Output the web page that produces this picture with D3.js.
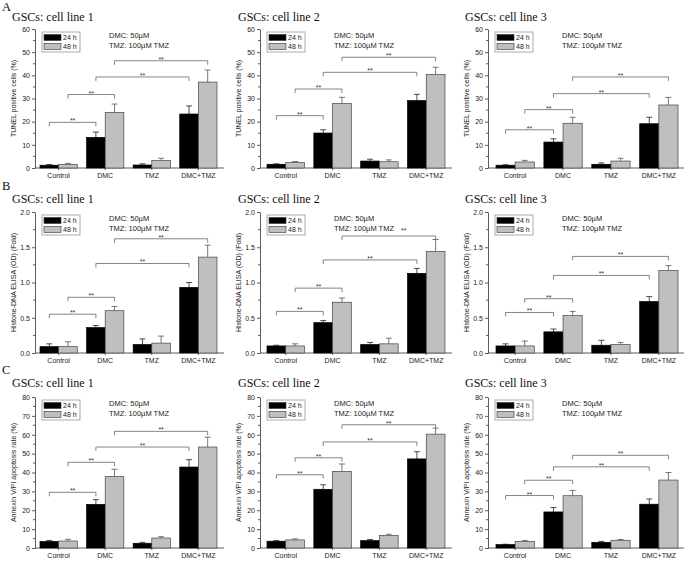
<!DOCTYPE html>
<html><head><meta charset="utf-8">
<script src="https://cdn.jsdelivr.net/npm/d3@7/dist/d3.min.js"></script>
<style>body{margin:0;background:#fff;} svg{display:block;}</style>
</head><body>
<svg id="chart" width="685" height="561"></svg>
<script>
// ---------------- data ----------------
const categories = ["Control", "DMC", "TMZ", "DMC+TMZ"];
const seriesNames = ["24 h", "48 h"];
const rowLetters = ["A", "B", "C"];
const panelTitles = ["GSCs: cell line 1", "GSCs: cell line 2", "GSCs: cell line 3"];
const yLabels = ["TUNEL positive cells (%)", "Histone-DNA ELISA (OD) (Fold)", "Annexin V/PI apoptosis rate  (%)"];
const yMaxes = [60, 2.0, 80];
const yTickSteps = [10, 0.5, 10];
const yTickFormats = ["d", ".1f", "d"];
const noteLine1 = "DMC: 50\u00B5M";
const noteLine2 = "TMZ: 100\u00B5M TMZ";
const starText = "**";

// A: TUNEL (%), rows of [cell line][category]
const tunel24 = [[1.2, 13.2, 1.3, 23.3], [1.6, 15.1, 3.0, 29.1], [1.2, 11.2, 1.6, 19.1]];
const tunel48 = [[1.5, 24.0, 3.2, 37.1], [2.4, 27.8, 2.7, 40.3], [2.6, 19.3, 3.0, 27.2]];
const tunel24Err = [[0.3, 2.3, 0.5, 3.5], [0.2, 1.4, 0.8, 2.7], [0.2, 1.4, 0.6, 2.8]];
const tunel48Err = [[0.5, 3.6, 1.0, 5.2], [0.4, 2.7, 0.8, 3.2], [0.7, 2.6, 1.2, 3.3]];
// B: Histone-DNA ELISA (fold)
const elisa24 = [[0.09, 0.36, 0.12, 0.93], [0.10, 0.43, 0.12, 1.13], [0.10, 0.30, 0.11, 0.73]];
const elisa48 = [[0.09, 0.60, 0.14, 1.36], [0.10, 0.72, 0.13, 1.44], [0.10, 0.53, 0.12, 1.17]];
const elisa24Err = [[0.04, 0.03, 0.08, 0.07], [0.01, 0.03, 0.03, 0.07], [0.03, 0.04, 0.07, 0.07]];
const elisa48Err = [[0.07, 0.06, 0.10, 0.17], [0.03, 0.06, 0.08, 0.17], [0.07, 0.06, 0.03, 0.07]];
// C: Annexin V/PI (%)
const annexin24 = [[3.5, 23.1, 2.5, 42.9], [3.6, 31.1, 3.9, 47.2], [1.8, 19.1, 3.0, 23.2]];
const annexin48 = [[3.7, 37.8, 5.3, 53.5], [4.3, 40.6, 6.6, 60.3], [3.5, 27.7, 4.1, 36.0]];
const annexin24Err = [[0.5, 2.5, 0.5, 3.9], [0.3, 2.4, 0.6, 3.8], [0.2, 2.3, 0.5, 2.8]];
const annexin48Err = [[0.9, 3.9, 0.7, 5.2], [0.5, 3.9, 0.7, 3.2], [0.5, 2.8, 0.4, 4.0]];

// significance brackets: [fromCategory, fromSeries, toCategory, toSeries]
const bracketPairs = [
  ["Control", "24 h", "DMC", "24 h"],
  ["Control", "48 h", "DMC", "48 h"],
  ["DMC", "24 h", "DMC+TMZ", "24 h"],
  ["DMC", "48 h", "DMC+TMZ", "48 h"]
];
const tunelBrackets = [[19.7, 31.7, 39.3, 46.3], [22.6, 34.1, 41.3, 47.8], [16.5, 25.2, 32.1, 39.3]];
const elisaBrackets = [[0.55, 0.79, 1.27, 1.62], [0.59, 0.92, 1.32, 1.66], [0.575, 0.77, 1.10, 1.37]];
const annexinBrackets = [[29.5, 45.4, 53.5, 61.8], [38.8, 47.8, 56.2, 65.3], [27.8, 35.9, 43.0, 49.1]];

const rowData = [
  {v24: tunel24, v48: tunel48, e24: tunel24Err, e48: tunel48Err, br: tunelBrackets},
  {v24: elisa24, v48: elisa48, e24: elisa24Err, e48: elisa48Err, br: elisaBrackets},
  {v24: annexin24, v48: annexin48, e24: annexin24Err, e48: annexin48Err, br: annexinBrackets}
];

// ---------------- layout ----------------
const rowTop = [29, 212, 397];
const rowBottom = [168, 353, 548];
const rowLetterY = [11, 190, 374];
const rowTitleY = [21, 203, 387];
const colAxisX = [35, 260, 488];
const colBarsStart = [40, 267, 496];
const colBarsEnd = [217, 445, 678];
const colAxisEnd = [224, 452, 684];
const colTitleX = [12, 238, 465];
// star label offsets (layout only): key "row-col-bracket" -> [dx, dy]
const starOffsets = {"1-1-3": [15, -4]};

const SANS = "'Liberation Sans', Arial, sans-serif";
const SERIF = "'Liberation Serif', 'Times New Roman', serif";
const colors = {"24 h": "#000000", "48 h": "#bfbfbf"};
const textColor = "#222";

const svg = d3.select("#chart");
svg.append("rect").attr("width", 685).attr("height", 561).attr("fill", "#fff");

rowLetters.forEach((L, r) => {
  svg.append("text").attr("x", 2).attr("y", rowLetterY[r])
    .attr("font-family", SERIF).attr("font-size", 12.5).attr("fill", "#111").text(L);
});

for (let r = 0; r < 3; r++) {
  for (let c = 0; c < 3; c++) {
    const D = rowData[r];
    const g = svg.append("g");
    const x0 = d3.scaleBand().domain(categories)
      .range([colBarsStart[c], colBarsEnd[c]]).paddingInner(0.2).paddingOuter(0);
    const x1 = d3.scaleBand().domain(seriesNames).range([0, x0.bandwidth()]).padding(0);
    const y = d3.scaleLinear().domain([0, yMaxes[r]]).range([rowBottom[r], rowTop[r]]);

    // title
    g.append("text").attr("x", colTitleX[c]).attr("y", rowTitleY[r])
      .attr("font-family", SERIF).attr("font-size", 12).attr("fill", "#111").text(panelTitles[c]);

    // y axis
    const step = yTickSteps[r];
    const majors = d3.range(0, yMaxes[r] + step / 2, step);
    const minors = d3.range(step / 2, yMaxes[r], step);
    const yAxis = d3.axisLeft(y).tickValues(majors).tickFormat(d3.format(yTickFormats[r]))
      .tickSizeInner(3).tickSizeOuter(0).tickPadding(2);
    const ya = g.append("g").attr("transform", `translate(${colAxisX[c]},0)`).call(yAxis);
    ya.selectAll("text").attr("font-family", SANS).attr("font-size", 7).attr("fill", textColor);
    ya.selectAll("line").attr("stroke", "#333").attr("stroke-width", 0.8);
    ya.select(".domain").attr("stroke", "#333").attr("stroke-width", 0.8);
    ya.selectAll(".minor").data(minors).enter().append("line").attr("class", "minor")
      .attr("x1", 0).attr("x2", -2).attr("y1", d => y(d)).attr("y2", d => y(d))
      .attr("stroke", "#333").attr("stroke-width", 0.8);

    // y label
    g.append("text")
      .attr("transform", `translate(${colAxisX[c] - 19},${(rowTop[r] + rowBottom[r]) / 2}) rotate(-90)`)
      .attr("text-anchor", "middle").attr("font-family", SANS).attr("font-size", 7)
      .attr("fill", textColor).text(yLabels[r]);

    // x axis line + labels
    g.append("line").attr("x1", colAxisX[c]).attr("x2", colAxisEnd[c])
      .attr("y1", rowBottom[r]).attr("y2", rowBottom[r]).attr("stroke", "#333").attr("stroke-width", 0.8);
    categories.forEach(cat => {
      const cx = x0(cat) + x0.bandwidth() / 2;
      g.append("line").attr("x1", cx).attr("x2", cx).attr("y1", rowBottom[r]).attr("y2", rowBottom[r] + 2)
        .attr("stroke", "#333").attr("stroke-width", 0.8);
      g.append("text").attr("x", cx).attr("y", rowBottom[r] + 10).attr("text-anchor", "middle")
        .attr("font-family", SANS).attr("font-size", 7).attr("fill", textColor).text(cat);
    });

    // bars
    const rows = [];
    categories.forEach((cat, i) => {
      rows.push({cat, s: "24 h", v: D.v24[c][i], e: D.e24[c][i]});
      rows.push({cat, s: "48 h", v: D.v48[c][i], e: D.e48[c][i]});
    });
    const bx = d => x0(d.cat) + x1(d.s);
    // error bars
    g.selectAll(".err").data(rows).enter().append("path").attr("class", "err")
      .attr("d", d => {
        const cx = bx(d) + x1.bandwidth() / 2, t = y(d.v + d.e);
        return `M${cx},${y(d.v)}V${t}M${cx - 3},${t}H${cx + 3}`;
      })
      .attr("fill", "none").attr("stroke", d => d.s === "24 h" ? "#222" : "#555").attr("stroke-width", 0.8);
    g.selectAll(".bar").data(rows).enter().append("rect").attr("class", "bar")
      .attr("x", bx).attr("width", x1.bandwidth())
      .attr("y", d => y(d.v)).attr("height", d => y(0) - y(d.v))
      .attr("fill", d => colors[d.s]).attr("stroke", d => d.s === "24 h" ? "#000" : "#444").attr("stroke-width", 0.7);

    // brackets
    bracketPairs.forEach((p, i) => {
      const xa = x0(p[0]) + x1(p[1]) + x1.bandwidth() / 2;
      const xb = x0(p[2]) + x1(p[3]) + x1.bandwidth() / 2;
      const yy = y(D.br[c][i]);
      g.append("path").attr("d", `M${xa},${yy + 4}V${yy}H${xb}V${yy + 4}`)
        .attr("fill", "none").attr("stroke", "#666").attr("stroke-width", 0.8);
      const off = starOffsets[`${r}-${c}-${i}`] || [0, 0];
      g.append("text").attr("x", (xa + xb) / 2 + off[0]).attr("y", yy + 1 + off[1]).attr("text-anchor", "middle")
        .attr("font-family", SANS).attr("font-size", 7).attr("fill", "#333").text(starText);
    });

    // legend
    const lx = colAxisX[c] + 7, ly = rowTop[r] + 3;
    const lg = g.append("g").attr("transform", `translate(${lx},${ly})`);
    lg.append("rect").attr("width", 38).attr("height", 20).attr("fill", "#fff")
      .attr("stroke", "#888").attr("stroke-width", 0.7);
    seriesNames.forEach((s, i) => {
      lg.append("rect").attr("x", 2).attr("y", 2.5 + i * 9).attr("width", 17).attr("height", 6)
        .attr("fill", colors[s]).attr("stroke", "#333").attr("stroke-width", 0.6);
      lg.append("text").attr("x", 21).attr("y", 8 + i * 9).attr("font-family", SANS)
        .attr("font-size", 7).attr("fill", textColor).text(s);
    });

    // annotation
    const ax = colAxisX[c] + 74;
    g.append("text").attr("x", ax).attr("y", rowTop[r] + 9).attr("font-family", SANS)
      .attr("font-size", 7.5).attr("fill", textColor).text(noteLine1);
    g.append("text").attr("x", ax).attr("y", rowTop[r] + 19).attr("font-family", SANS)
      .attr("font-size", 7.5).attr("fill", textColor).text(noteLine2);
  }
}
</script>
</body></html>
